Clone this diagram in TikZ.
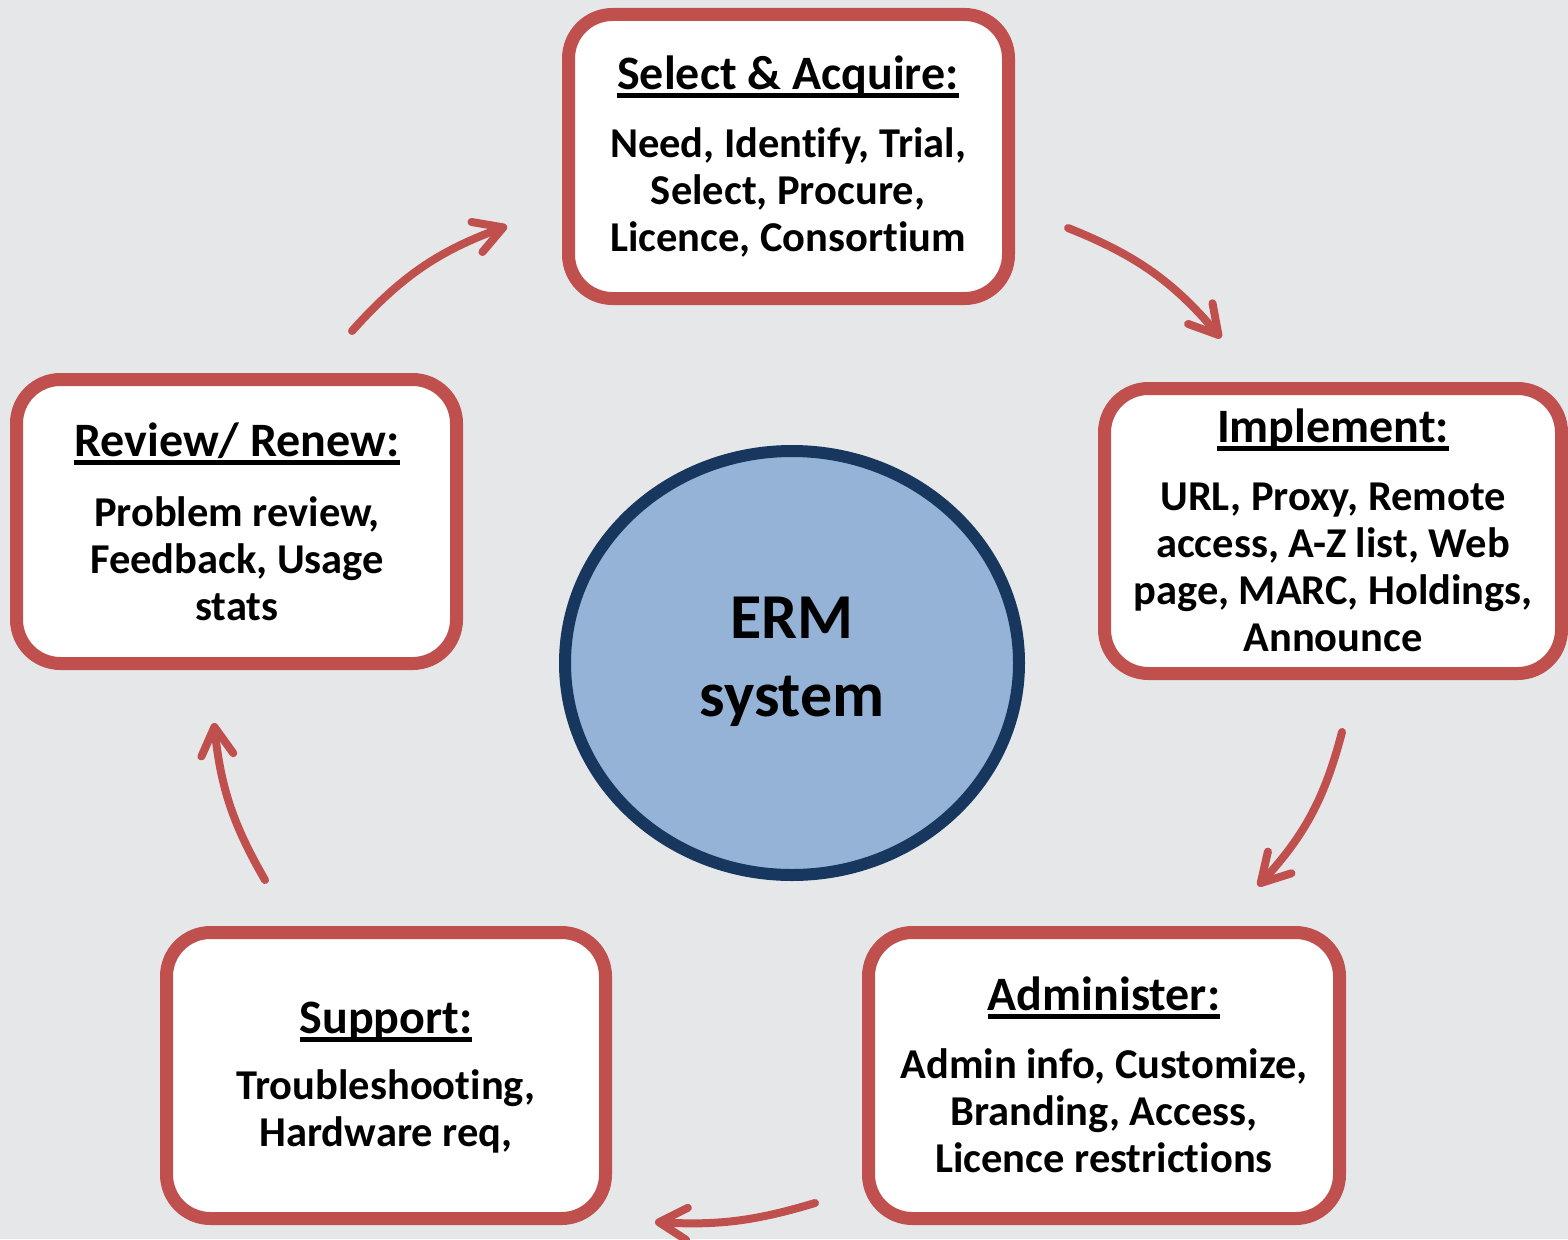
\documentclass[tikz,border=0pt]{standalone}
\usepackage{fontspec}
\setmainfont{Carlito}[Ligatures={NoCommon}]
\usetikzlibrary{arrows.meta,shapes.geometric}
\definecolor{bg}{HTML}{E6E7E9}
\definecolor{boxred}{HTML}{C0504D}
\definecolor{ellfill}{HTML}{95B3D7}
\definecolor{elldraw}{HTML}{17375E}
\newcommand\ttl[1]{\setbox0\hbox{#1}\rlap{\rule[-8.5pt]{\wd0}{4.5pt}}\box0}
\tikzset{
  stagebox/.style={draw=boxred, line width=13pt, fill=white, rounded corners=44pt, inner sep=0pt},
  stagetitle/.style={anchor=base, font=\bfseries\fontsize{48}{56}\selectfont, inner sep=0pt},
  stagebody/.style={align=center, font=\bfseries\fontsize{42.5}{47}\selectfont, inner sep=0pt},
  cyc/.style={draw=boxred, line width=8pt, line cap=round, -{Straight Barb[length=28pt, width=32pt, line cap=round, line join=round]}}
}
\begin{document}
\begin{tikzpicture}[x=1pt, y=-1pt]
\useasboundingbox[fill=bg] (0,0) rectangle (1568,1239);
% boxes
\node[stagebox, minimum width=440pt, minimum height=284pt] (sel) at (788.5,156.5) {};
\node[stagebox, minimum width=457pt, minimum height=285pt] (imp) at (1333,531) {};
\node[stagebox, minimum width=471pt, minimum height=286pt] (adm) at (1104,1075.5) {};
\node[stagebox, minimum width=439pt, minimum height=286pt] (sup) at (386,1075.5) {};
\node[stagebox, minimum width=440pt, minimum height=284pt] (rev) at (236.5,521.5) {};
% ellipse
\node[draw=elldraw, fill=ellfill, line width=12pt, ellipse, minimum width=454pt, minimum height=424pt, inner sep=0pt] (erm) at (792,663) {};
\node[align=center, font=\bfseries\fontsize{64}{78}\selectfont, inner sep=0pt] (ermtext) at (792,662) {ERM\\system};
% titles
\node[stagetitle] (selt) at (788,89) {\ttl{Select \& Acquire:}};
\node[stagetitle] (impt) at (1333,442) {\ttl{Implement:}};
\node[stagetitle] (admt) at (1104,1010) {\ttl{Administer:}};
\node[stagetitle] (supt) at (386,1033) {\ttl{Support:}};
\node[stagetitle] (revt) at (237,456) {\ttl{Review/ Renew:}};
% bodies
\node[stagebody] (selb) at (788,192) {Need, Identify, Trial,\\Select, Procure,\\Licence, Consortium};
\node[stagebody] (impb) at (1333,567) {URL, Proxy, Remote\\access, A-Z list, Web\\page, MARC, Holdings,\\Announce};
\node[stagebody] (admb) at (1104,1111) {Admin info, Customize,\\Branding, Access,\\Licence restrictions};
\node[stagebody] (supb) at (386,1111.5) {Troubleshooting,\\Hardware req,};
\node[stagebody] (revb) at (237,558.5) {Problem review,\\Feedback, Usage\\stats};
% arrows
\coordinate (a1s) at (352,331);
\coordinate (a1e) at (507,226);
\coordinate (a2s) at (1068,228);
\coordinate (a2e) at (1221,338);
\coordinate (a3s) at (1342,732);
\coordinate (a3e) at (1258,886);
\coordinate (a4s) at (815,1203);
\coordinate (a4e) at (655,1222);
\coordinate (a5s) at (265,880);
\coordinate (a5e) at (214,723);
\draw[cyc] (a1s) to[bend left=14] (a1e);
\draw[cyc] (a2s) to[bend left=14] (a2e);
\draw[cyc] (a3s) to[bend left=14] (a3e);
\draw[cyc] (a4s) to[bend left=10] (a4e);
\draw[cyc] (a5s) to[bend left=12] (a5e);
\end{tikzpicture}
\end{document}
